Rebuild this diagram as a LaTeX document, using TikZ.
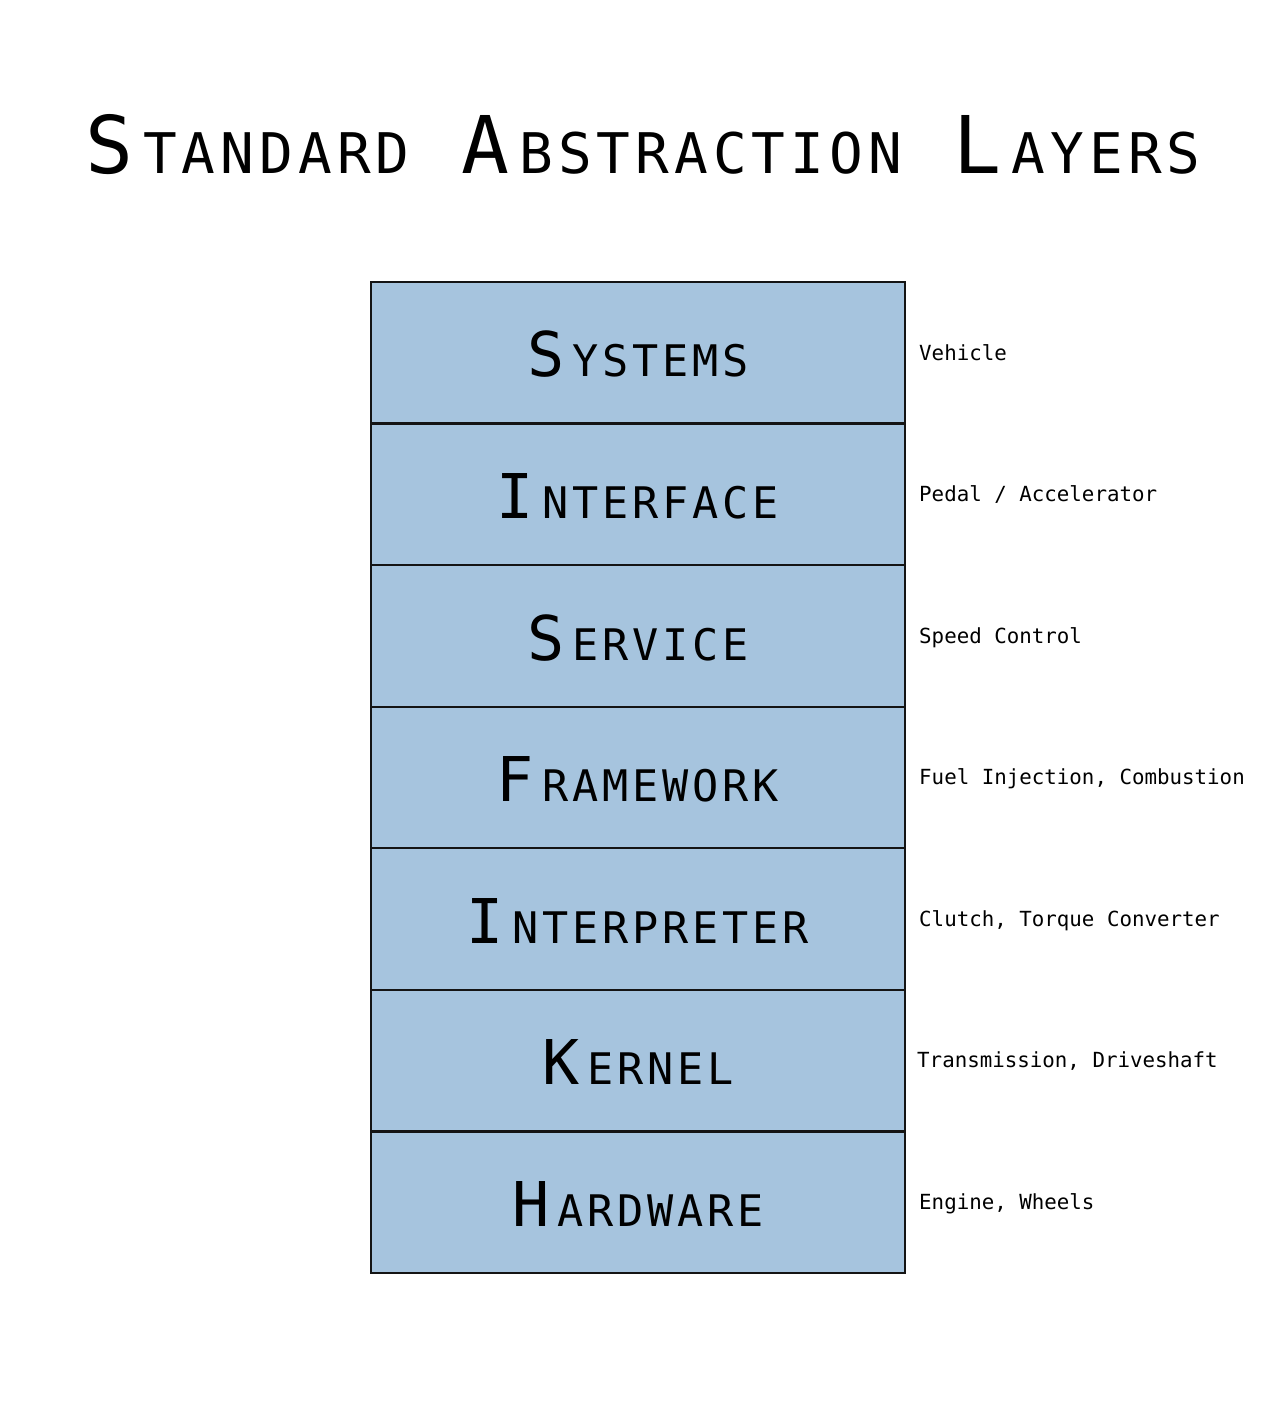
\documentclass[tikz,border=0pt]{standalone}
\usepackage{fontspec}
\newfontfamily\scfont[LetterSpace=9]{DejaVu Sans Mono}
\newfontfamily\lblfont{DejaVu Sans Mono}
\definecolor{layerblue}{RGB}{166,196,222}
\definecolor{edgeblack}{RGB}{20,20,20}
\newcommand\fakesc[5]{{\scfont\fontsize{#1}{#1}\selectfont #4}\hspace{#3}{\scfont\fontsize{#2}{#2}\selectfont #5}}
\newcommand\titlesc[2]{\fakesc{79.6pt}{56pt}{10pt}{#1}{#2}}
\newcommand\layersc[2]{\fakesc{61.7pt}{43.5pt}{8pt}{#1}{#2}}
\tikzset{
  layerbox/.style={draw=edgeblack, line width=2.2pt, fill=layerblue,
    minimum width=534pt, minimum height=141.57pt, inner sep=0pt, outer sep=0pt,
    text height=48pt, text depth=0pt},
  sidelabel/.style={anchor=west, inner sep=0pt, text height=14.5pt, text depth=0pt,
    font=\lblfont\fontsize{20.8pt}{20.8pt}\selectfont},
}
\begin{document}
\begin{tikzpicture}[x=1pt,y=-1pt]
\useasboundingbox[fill=white] (0,0) rectangle (1275,1416);
\node[anchor=base, inner sep=0pt] (title) at (643,173)
  {\titlesc{S}{TANDARD}\hspace{52pt}\titlesc{A}{BSTRACTION}\hspace{52pt}\titlesc{L}{AYERS}};
\node[layerbox] (systems)     at (638, 352.8) {\layersc{S}{YSTEMS}};
\node[layerbox] (interface)   at (638, 494.4) {\layersc{I}{NTERFACE}};
\node[layerbox] (service)     at (638, 636.0) {\layersc{S}{ERVICE}};
\node[layerbox] (framework)   at (638, 777.5) {\layersc{F}{RAMEWORK}};
\node[layerbox] (interpreter) at (638, 919.1) {\layersc{I}{NTERPRETER}};
\node[layerbox] (kernel)      at (638, 1060.6) {\layersc{K}{ERNEL}};
\node[layerbox] (hardware)    at (638, 1202.2) {\layersc{H}{ARDWARE}};
\node[sidelabel] (lsys)  at (919, 352.8) {Vehicle};
\node[sidelabel] (lint)  at (919, 494.4) {Pedal / Accelerator};
\node[sidelabel] (lser)  at (919, 636.0) {Speed Control};
\node[sidelabel] (lfra)  at (919, 777.5) {Fuel Injection, Combustion};
\node[sidelabel] (lipr)  at (919, 919.1) {Clutch, Torque Converter};
\node[sidelabel] (lker)  at (917, 1060.6) {Transmission, Driveshaft};
\node[sidelabel] (lhar)  at (919, 1202.2) {Engine, Wheels};
\end{tikzpicture}
\end{document}
